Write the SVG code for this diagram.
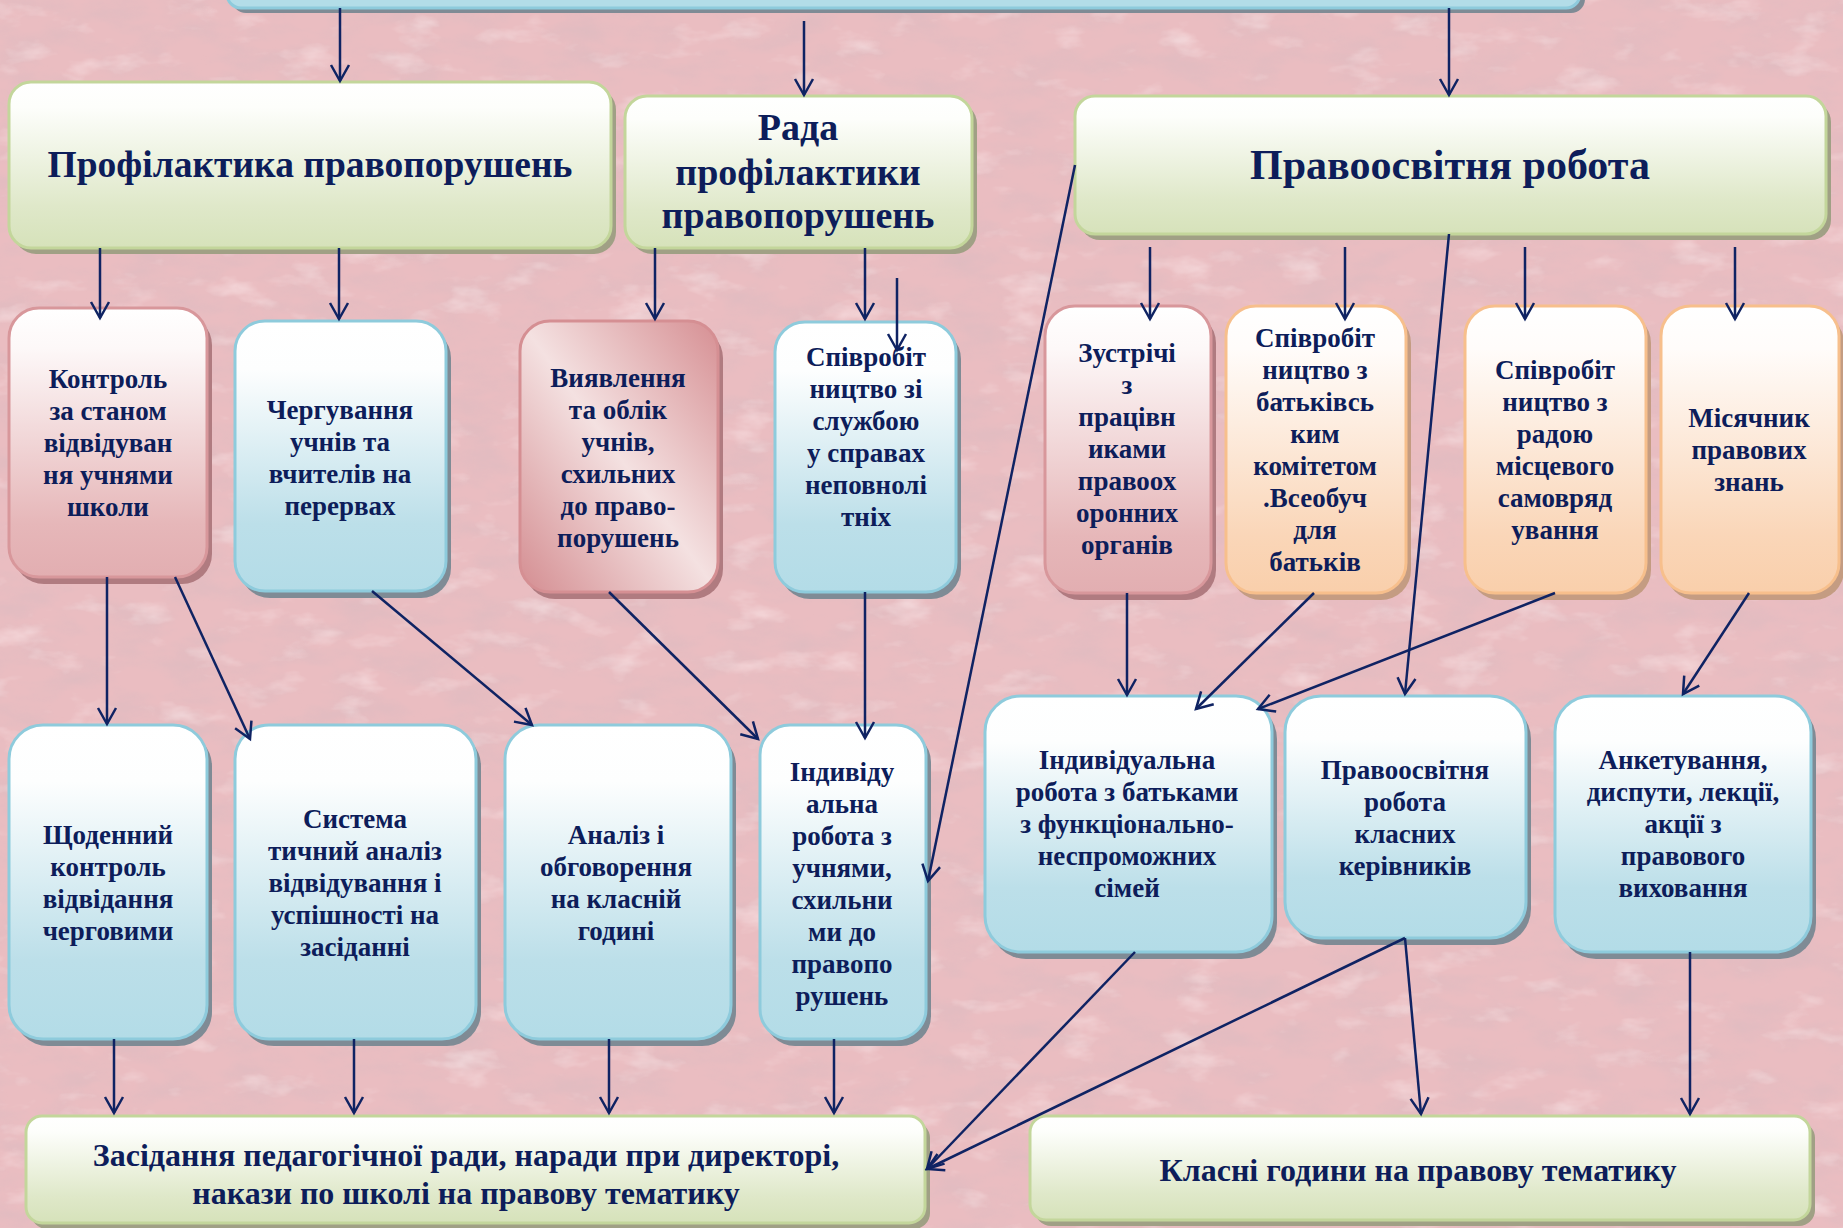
<svg xmlns="http://www.w3.org/2000/svg" width="1843" height="1228" viewBox="0 0 1843 1228">
<defs>
  <linearGradient id="gBlue" x1="0" y1="0" x2="0" y2="1">
    <stop offset="0" stop-color="#ffffff"/><stop offset="0.18" stop-color="#fdfefe"/><stop offset="0.75" stop-color="#bcdfe9"/><stop offset="1" stop-color="#b3dce7"/>
  </linearGradient>
  <linearGradient id="gPink" x1="0" y1="0" x2="0" y2="1">
    <stop offset="0" stop-color="#ffffff"/><stop offset="0.15" stop-color="#fdf8f8"/><stop offset="0.8" stop-color="#e6b7b9"/><stop offset="1" stop-color="#e2aeb1"/>
  </linearGradient>
  <linearGradient id="gOrange" x1="0" y1="0" x2="0" y2="1">
    <stop offset="0" stop-color="#ffffff"/><stop offset="0.15" stop-color="#fffcfa"/><stop offset="0.8" stop-color="#fad6b8"/><stop offset="1" stop-color="#f9cfab"/>
  </linearGradient>
  <linearGradient id="gGreen" x1="0" y1="0" x2="0" y2="1">
    <stop offset="0" stop-color="#ffffff"/><stop offset="0.15" stop-color="#fdfefb"/><stop offset="0.75" stop-color="#dfe8c9"/><stop offset="1" stop-color="#d6e2ba"/>
  </linearGradient>
  <linearGradient id="gDiag" x1="1" y1="0" x2="0" y2="1">
    <stop offset="0" stop-color="#d68f93"/><stop offset="0.5" stop-color="#f4e1e1"/><stop offset="1" stop-color="#d48d91"/>
  </linearGradient>
  <filter id="tex" x="0" y="0" width="1843" height="1228" filterUnits="userSpaceOnUse">
    <feTurbulence type="fractalNoise" baseFrequency="0.018 0.04" numOctaves="4" seed="7" result="n"/>
    <feColorMatrix in="n" type="matrix" values="0 0 0 0 0.74  0 0 0 0 0.5  0 0 0 0 0.53  1.8 0 0 0 -0.72" result="dark"/>
    <feColorMatrix in="n" type="matrix" values="0 0 0 0 0.98  0 0 0 0 0.85  0 0 0 0 0.86  0 -1.4 0 0 0.6" result="light"/>
    <feMerge><feMergeNode in="dark"/><feMergeNode in="light"/></feMerge>
  </filter>
  <marker id="ah" markerUnits="userSpaceOnUse" markerWidth="22" markerHeight="22" viewBox="0 0 22 22" refX="18" refY="11" orient="auto">
    <path d="M2,2 L18,11 L2,20" fill="none" stroke="#0f2363" stroke-width="2.5"/>
  </marker>
</defs>
<style>
  .t { font-family: "Liberation Serif", "Times New Roman", serif; font-weight: bold; fill: #0d1d5a; text-anchor: middle; }
  .s { font-size: 27px; }
  .m { font-size: 32px; }
  .b { stroke-width: 3; }
  .blue { fill: url(#gBlue); stroke: #8ecbdc; }
  .pink { fill: url(#gPink); stroke: #d8979b; }
  .diag { fill: url(#gDiag); stroke: #d58f93; }
  .orange { fill: url(#gOrange); stroke: #f7bf8c; }
  .green { fill: url(#gGreen); stroke: #c3d69b; }
  .shb { fill: #7f8b95; }
  .shp { fill: #b07b80; }
  .sho { fill: #c49c82; }
  .shg { fill: #a0a085; }
  #connectors line { stroke: #0f2363; stroke-width: 2.5; marker-end: url(#ah); }
</style>

<rect x="0" y="0" width="1843" height="1228" fill="#eabdc1"/>
<rect x="0" y="0" width="1843" height="1228" filter="url(#tex)"/>

<g id="n_top">
  <rect class="shb" x="232" y="-30" width="1353" height="43" rx="14"/>
  <rect class="blue b" x="227" y="-34" width="1353" height="42" rx="14" style="fill:#b3dde8"/>
</g>

<g id="n_prof">
  <rect class="shg" x="14" y="88" width="602" height="166" rx="22"/>
  <rect class="green b" x="9" y="82" width="602" height="166" rx="22"/>
  <text class="t" x="310" y="177" font-size="37.5">Профілактика правопорушень</text>
</g>

<g id="n_rada">
  <rect class="shg" x="630" y="102" width="347" height="152" rx="22"/>
  <rect class="green b" x="625" y="96" width="347" height="152" rx="22"/>
  <text class="t" font-size="38"><tspan x="798" y="140">Рада</tspan><tspan x="798" y="185">профілактики</tspan><tspan x="798" y="228">правопорушень</tspan></text>
</g>

<g id="n_pravo">
  <rect class="shg" x="1080" y="102" width="751" height="138" rx="20"/>
  <rect class="green b" x="1075" y="96" width="751" height="138" rx="20"/>
  <text class="t" x="1450" y="179" font-size="42">Правоосвітня робота</text>
</g>

<g id="n_kontrol">
  <rect class="shp" x="14" y="315" width="198" height="269" rx="30"/>
  <rect class="pink b" x="9" y="308" width="198" height="269" rx="30"/>
  <text class="t s"><tspan x="108" y="388">Контроль</tspan><tspan x="108" y="420">за станом</tspan><tspan x="108" y="452">відвідуван</tspan><tspan x="108" y="484">ня учнями</tspan><tspan x="108" y="516">школи</tspan></text>
</g>

<g id="n_cherg">
  <rect class="shb" x="240" y="328" width="211" height="270" rx="30"/>
  <rect class="blue b" x="235" y="321" width="211" height="270" rx="30"/>
  <text class="t s"><tspan x="340" y="419">Чергування</tspan><tspan x="340" y="451">учнів та</tspan><tspan x="340" y="483">вчителів на</tspan><tspan x="340" y="515">перервах</tspan></text>
</g>

<g id="n_vyyav">
  <rect class="shp" x="525" y="328" width="198" height="271" rx="30"/>
  <rect class="diag b" x="520" y="321" width="198" height="271" rx="30"/>
  <text class="t s"><tspan x="618" y="387">Виявлення</tspan><tspan x="618" y="419">та облік</tspan><tspan x="618" y="451">учнів,</tspan><tspan x="618" y="483">схильних</tspan><tspan x="618" y="515">до право-</tspan><tspan x="618" y="547">порушень</tspan></text>
</g>

<g id="n_spiv_sl">
  <rect class="shb" x="780" y="329" width="181" height="270" rx="30"/>
  <rect class="blue b" x="775" y="322" width="181" height="270" rx="30"/>
  <text class="t s"><tspan x="866" y="366">Співробіт</tspan><tspan x="866" y="398">ництво зі</tspan><tspan x="866" y="430">службою</tspan><tspan x="866" y="462">у справах</tspan><tspan x="866" y="494">неповнолі</tspan><tspan x="866" y="526">тніх</tspan></text>
</g>

<g id="n_zustr">
  <rect class="shp" x="1050" y="313" width="166" height="287" rx="30"/>
  <rect class="pink b" x="1045" y="306" width="166" height="287" rx="30"/>
  <text class="t s"><tspan x="1127" y="362">Зустрічі</tspan><tspan x="1127" y="394">з</tspan><tspan x="1127" y="426">працівн</tspan><tspan x="1127" y="458">иками</tspan><tspan x="1127" y="490">правоох</tspan><tspan x="1127" y="522">оронних</tspan><tspan x="1127" y="554">органів</tspan></text>
</g>

<g id="n_spiv_bat">
  <rect class="sho" x="1231" y="313" width="180" height="287" rx="30"/>
  <rect class="orange b" x="1226" y="306" width="180" height="287" rx="30"/>
  <text class="t s"><tspan x="1315" y="347">Співробіт</tspan><tspan x="1315" y="379">ництво з</tspan><tspan x="1315" y="411">батьківсь</tspan><tspan x="1315" y="443">ким</tspan><tspan x="1315" y="475">комітетом</tspan><tspan x="1315" y="507">.Всеобуч</tspan><tspan x="1315" y="539">для</tspan><tspan x="1315" y="571">батьків</tspan></text>
</g>

<g id="n_spiv_rad">
  <rect class="sho" x="1470" y="313" width="181" height="287" rx="30"/>
  <rect class="orange b" x="1465" y="306" width="181" height="287" rx="30"/>
  <text class="t s"><tspan x="1555" y="379">Співробіт</tspan><tspan x="1555" y="411">ництво з</tspan><tspan x="1555" y="443">радою</tspan><tspan x="1555" y="475">місцевого</tspan><tspan x="1555" y="507">самовряд</tspan><tspan x="1555" y="539">ування</tspan></text>
</g>

<g id="n_misyach">
  <rect class="sho" x="1666" y="313" width="178" height="287" rx="30"/>
  <rect class="orange b" x="1661" y="306" width="178" height="287" rx="30"/>
  <text class="t s"><tspan x="1749" y="427">Місячник</tspan><tspan x="1749" y="459">правових</tspan><tspan x="1749" y="491">знань</tspan></text>
</g>

<g id="n_shchod">
  <rect class="shb" x="14" y="732" width="198" height="314" rx="34"/>
  <rect class="blue b" x="9" y="725" width="198" height="314" rx="34"/>
  <text class="t s"><tspan x="108" y="844">Щоденний</tspan><tspan x="108" y="876">контроль</tspan><tspan x="108" y="908">відвідання</tspan><tspan x="108" y="940">черговими</tspan></text>
</g>

<g id="n_system">
  <rect class="shb" x="240" y="732" width="241" height="314" rx="34"/>
  <rect class="blue b" x="235" y="725" width="241" height="314" rx="34"/>
  <text class="t s"><tspan x="355" y="828">Система</tspan><tspan x="355" y="860">тичний аналіз</tspan><tspan x="355" y="892">відвідування і</tspan><tspan x="355" y="924">успішності на</tspan><tspan x="355" y="956">засіданні</tspan></text>
</g>

<g id="n_analiz">
  <rect class="shb" x="510" y="732" width="226" height="314" rx="34"/>
  <rect class="blue b" x="505" y="725" width="226" height="314" rx="34"/>
  <text class="t s"><tspan x="616" y="844">Аналіз і</tspan><tspan x="616" y="876">обговорення</tspan><tspan x="616" y="908">на класній</tspan><tspan x="616" y="940">годині</tspan></text>
</g>

<g id="n_indiv_uch">
  <rect class="shb" x="765" y="732" width="166" height="314" rx="30"/>
  <rect class="blue b" x="760" y="725" width="166" height="314" rx="30"/>
  <text class="t s"><tspan x="842" y="781">Індивіду</tspan><tspan x="842" y="813">альна</tspan><tspan x="842" y="845">робота з</tspan><tspan x="842" y="877">учнями,</tspan><tspan x="842" y="909">схильни</tspan><tspan x="842" y="941">ми до</tspan><tspan x="842" y="973">правопо</tspan><tspan x="842" y="1005">рушень</tspan></text>
</g>

<g id="n_indiv_bat">
  <rect class="shb" x="990" y="703" width="287" height="256" rx="36"/>
  <rect class="blue b" x="985" y="696" width="287" height="256" rx="36"/>
  <text class="t s"><tspan x="1127" y="769">Індивідуальна</tspan><tspan x="1127" y="801">робота з батьками</tspan><tspan x="1127" y="833">з функціонально-</tspan><tspan x="1127" y="865">неспроможних</tspan><tspan x="1127" y="897">сімей</tspan></text>
</g>

<g id="n_pravo_kl">
  <rect class="shb" x="1290" y="703" width="241" height="242" rx="36"/>
  <rect class="blue b" x="1285" y="696" width="241" height="242" rx="36"/>
  <text class="t s"><tspan x="1405" y="779">Правоосвітня</tspan><tspan x="1405" y="811">робота</tspan><tspan x="1405" y="843">класних</tspan><tspan x="1405" y="875">керівників</tspan></text>
</g>

<g id="n_anket">
  <rect class="shb" x="1560" y="703" width="256" height="256" rx="36"/>
  <rect class="blue b" x="1555" y="696" width="256" height="256" rx="36"/>
  <text class="t s"><tspan x="1683" y="769">Анкетування,</tspan><tspan x="1683" y="801">диспути, лекції,</tspan><tspan x="1683" y="833">акції з</tspan><tspan x="1683" y="865">правового</tspan><tspan x="1683" y="897">виховання</tspan></text>
</g>

<g id="n_zasid">
  <rect class="shg" x="31" y="1122" width="899" height="107" rx="16"/>
  <rect class="green b" x="26" y="1116" width="899" height="107" rx="16"/>
  <text class="t m"><tspan x="466" y="1166">Засідання педагогічної ради, наради при директорі,</tspan><tspan x="466" y="1204">накази по школі на правову тематику</tspan></text>
</g>

<g id="n_klasni">
  <rect class="shg" x="1035" y="1122" width="780" height="104" rx="16"/>
  <rect class="green b" x="1030" y="1116" width="780" height="104" rx="16"/>
  <text class="t m" x="1418" y="1181">Класні години на правову тематику</text>
</g>

<g id="connectors">
  <line x1="340" y1="8" x2="340" y2="81"/>
  <line x1="804" y1="21" x2="804" y2="95"/>
  <line x1="1449" y1="8" x2="1449" y2="95"/>
  <line x1="100" y1="248" x2="100" y2="318"/>
  <line x1="339" y1="248" x2="339" y2="319"/>
  <line x1="655" y1="248" x2="655" y2="319"/>
  <line x1="865" y1="248" x2="865" y2="319"/>
  <line x1="897" y1="278" x2="897" y2="350"/>
  <line x1="1150" y1="247" x2="1150" y2="319"/>
  <line x1="1345" y1="247" x2="1345" y2="319"/>
  <line x1="1525" y1="247" x2="1525" y2="319"/>
  <line x1="1735" y1="247" x2="1735" y2="319"/>
  <line x1="1075" y1="165" x2="928" y2="881"/>
  <line x1="1449" y1="234" x2="1405" y2="694"/>
  <line x1="107" y1="577" x2="107" y2="724"/>
  <line x1="175" y1="577" x2="250" y2="739"/>
  <line x1="372" y1="591" x2="532" y2="725"/>
  <line x1="609" y1="592" x2="758" y2="739"/>
  <line x1="865" y1="592" x2="865" y2="738"/>
  <line x1="1127" y1="593" x2="1127" y2="695"/>
  <line x1="1314" y1="593" x2="1196" y2="709"/>
  <line x1="1555" y1="593" x2="1258" y2="709"/>
  <line x1="1749" y1="593" x2="1683" y2="694"/>
  <line x1="114" y1="1039" x2="114" y2="1113"/>
  <line x1="354" y1="1039" x2="354" y2="1113"/>
  <line x1="609" y1="1039" x2="609" y2="1113"/>
  <line x1="834" y1="1039" x2="834" y2="1113"/>
  <line x1="1135" y1="952" x2="927" y2="1169"/>
  <line x1="1405" y1="938" x2="927" y2="1169"/>
  <line x1="1405" y1="938" x2="1421" y2="1114"/>
  <line x1="1690" y1="952" x2="1690" y2="1114"/>
</g>
</svg>
